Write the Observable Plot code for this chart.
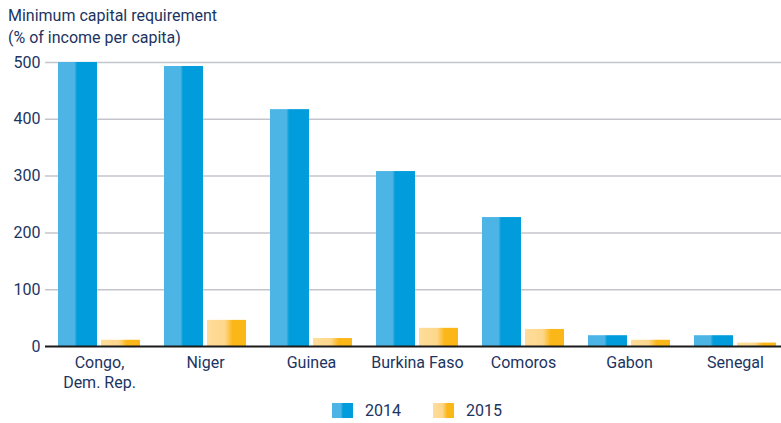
<!DOCTYPE html>
<html>
<head>
<meta charset="utf-8">
<script src="https://cdn.jsdelivr.net/npm/d3@7"></script>
<script src="https://cdn.jsdelivr.net/npm/@observablehq/plot@0.6"></script>
<style>
  body { margin: 0; background: #fff; font-family: Roboto, sans-serif; }
  #wrap { position: relative; width: 781px; height: 423px; overflow: hidden; }
  #title { position: absolute; left: 8px; top: 5px; font-size: 16px; line-height: 22px; color: #1c3461; }
  #chart { position: absolute; left: 0; top: 48px; }
  #legend { position: absolute; top: 401px; left: 332px; display: flex; align-items: center; font-size: 16px; color: #1c3461; }
  .sw { width: 21px; height: 15px; display: inline-block; margin-right: 12px; }
  .lab { margin-right: 32px; }
</style>
</head>
<body>
<div id="wrap">
  <div id="title">Minimum capital requirement<br>(% of income per capita)</div>
  <div id="chart"></div>
  <div id="legend"></div>
</div>
<script>
const countries = ["Congo,\nDem. Rep.", "Niger", "Guinea", "Burkina Faso", "Comoros", "Gabon", "Senegal"];
const values2014 = [500, 493, 417, 308, 227, 19, 19];
const values2015 = [11, 46, 14, 32, 30, 11, 6];
const years = ["2014", "2015"];
const yTicks = [0, 100, 200, 300, 400, 500];

const navy = "#1c3461";
const data2014 = countries.map((c, i) => ({country: c, value: values2014[i]}));
const data2015 = countries.map((c, i) => ({country: c, value: values2015[i]}));

const chart = Plot.plot({
  width: 781,
  height: 350,
  marginTop: 14,
  marginBottom: 52,
  marginLeft: 45,
  marginRight: 0,
  style: {fontFamily: "Roboto, sans-serif", fontSize: "16px", color: navy, background: "transparent", overflow: "visible"},
  x: {type: "band", domain: countries, range: [45, 789], paddingInner: 0.2286, paddingOuter: 0.1143, label: null},
  y: {domain: [0, 500], label: null},
  marks: [
    Plot.ruleY(yTicks.filter(d => d > 0), {stroke: "#c4c5cc", strokeWidth: 1.5}),
    Plot.barY(data2014, {x: "country", y: "value", fill: "url(#g2014)", insetRight: 43}),
    Plot.barY(data2015, {x: "country", y: "value", fill: "url(#g2015)", insetLeft: 43}),
    Plot.ruleY([0], {stroke: "#1a1a1a", strokeWidth: 2}),
    Plot.axisY({ticks: yTicks, tickSize: 0, tickPadding: 5, fill: navy, fontSize: 16, label: null}),
    Plot.axisX({tickSize: 0, tickPadding: 7, fill: navy, fontSize: 16, lineHeight: 1.25, label: null})
  ]
});

d3.select(chart).insert("defs", ":first-child").html(`
  <linearGradient id="g2014" x1="0" x2="1" y1="0" y2="0">
    <stop offset="0" stop-color="#4db5e5"/>
    <stop offset="0.42" stop-color="#4db5e5"/>
    <stop offset="0.49" stop-color="#009cdb"/>
    <stop offset="1" stop-color="#009cdb"/>
  </linearGradient>
  <linearGradient id="g2015" x1="0" x2="1" y1="0" y2="0">
    <stop offset="0" stop-color="#fedd9c"/>
    <stop offset="0.46" stop-color="#fdd78a"/>
    <stop offset="0.66" stop-color="#fbb617"/>
    <stop offset="1" stop-color="#fbb617"/>
  </linearGradient>`);
document.getElementById("chart").appendChild(chart);

const swatches = {
  "2014": "linear-gradient(to right, #4db5e5 0%, #4db5e5 42%, #009cdb 52%, #009cdb 100%)",
  "2015": "linear-gradient(to right, #fedd9c 0%, #fdd78a 45%, #fbb617 68%, #fbb617 100%)"
};
const legend = document.getElementById("legend");
years.forEach(y => {
  const s = document.createElement("span"); s.className = "sw"; s.style.background = swatches[y];
  const t = document.createElement("span"); t.className = "lab"; t.textContent = y;
  legend.appendChild(s); legend.appendChild(t);
});
</script>
</body>
</html>
